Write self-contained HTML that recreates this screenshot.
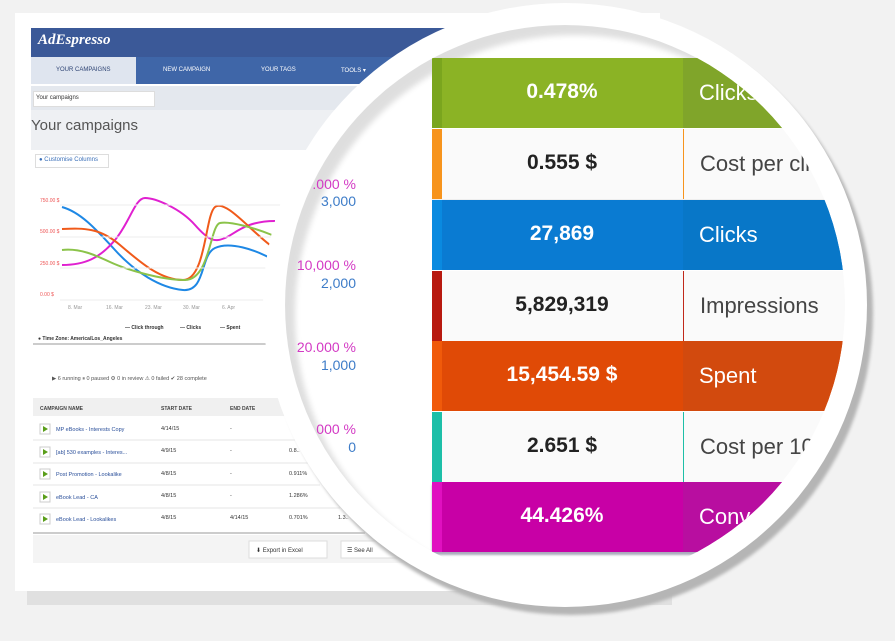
<!DOCTYPE html>
<html><head><meta charset="utf-8"><style>
body{margin:0;width:895px;height:641px;background:#f2f2f2;position:relative;overflow:hidden;font-family:"Liberation Sans",sans-serif}
.abs{position:absolute}
.card{left:15px;top:13px;width:645px;height:578px;background:#fff;box-shadow:12px 14px 0 #e0e0e0}
.t{font-size:6px;color:#333;position:absolute}
.lens{left:263px;top:3px;width:604px;height:604px;border-radius:50%;background:#fff;box-shadow:6px 8px 3px #b5b5b5}
.inner{left:285px;top:25px;width:560px;height:560px;border-radius:50%;overflow:hidden;background:#fff;box-shadow:inset 10px 10px 6px rgba(0,0,0,.13)}
.row{position:absolute;left:147px;width:420px;height:70px;font-weight:bold;font-size:21px}
.row .v{position:absolute;left:10px;width:240px;text-align:center;top:22px}
.row .l{position:absolute;left:251px;right:0;top:0;bottom:0;padding:22px 0 0 16px;font-weight:normal;font-size:22px}
.row .b{position:absolute;left:0;top:0;bottom:0;width:10px}
</style></head><body>
<div class="abs card"></div>
<div class="abs" style="left:31px;top:28px;width:420px;height:29px;background:#3b5998"></div>
<div class="abs" style="left:38px;top:32px;color:#fff;font:italic bold 15px 'Liberation Serif',serif">AdEspresso</div>
<div class="abs" style="left:31px;top:57px;width:420px;height:27px;background:#3f66a8"></div>
<div class="abs" style="left:31px;top:57px;width:105px;height:27px;background:#dfe5ef"></div>
<div class="t" style="left:56px;top:67px;color:#2d4373">YOUR CAMPAIGNS</div>
<div class="t" style="left:163px;top:67px;color:#fff">NEW CAMPAIGN</div>
<div class="t" style="left:261px;top:67px;color:#fff">YOUR TAGS</div>
<div class="t" style="left:341px;top:67px;color:#fff">TOOLS ▾</div>
<div class="abs" style="left:31px;top:86px;width:420px;height:24px;background:#e4e8ee"></div>
<div class="abs" style="left:33px;top:91px;width:120px;height:14px;background:#fff;border:1px solid #ddd"></div>
<div class="t" style="left:36px;top:95px">Your campaigns</div>
<div class="abs" style="left:31px;top:110px;width:420px;height:40px;background:#eef0f3"></div>
<div class="abs" style="left:31px;top:117px;font-size:15px;color:#555">Your campaigns</div>
<div class="abs" style="left:35px;top:154px;width:72px;height:12px;border:1px solid #ddd;background:#fff"></div>
<div class="t" style="left:39px;top:157px;color:#3a6fb8">● Customise Columns</div>
<svg class="abs" style="left:0;top:0" width="440" height="600">
<g stroke-width="2" fill="none">
<path d="M62,207 C80,212 95,228 115,250 S160,288 183,290 S200,255 215,248 S255,250 270,258" stroke="#1e88e5"/>
<path d="M62,265 C85,265 100,258 115,240 S135,198 145,198 S180,208 195,225 S215,242 225,238 S245,221 275,221" stroke="#e020d0"/>
<path d="M62,229 C85,228 100,228 120,245 S160,280 183,280 S205,215 215,207 S250,230 270,245" stroke="#f05a1a"/>
<path d="M62,250 C80,248 95,255 110,262 S160,280 185,280 S210,225 220,223 S255,228 272,235" stroke="#8bc34a"/>
</g>
<g stroke="#eee"><line x1="60" y1="205" x2="282" y2="205"/><line x1="60" y1="237" x2="282" y2="237"/><line x1="60" y1="268" x2="282" y2="268"/><line x1="60" y1="300" x2="265" y2="300"/></g>
<g font-size="5" fill="#999"><text x="68" y="309">8. Mar</text><text x="106" y="309">16. Mar</text><text x="145" y="309">23. Mar</text><text x="183" y="309">30. Mar</text><text x="222" y="309">6. Apr</text></g>
<g font-size="5" fill="#e55"><text x="40" y="202">750.00 $</text><text x="40" y="233">500.00 $</text><text x="40" y="265">250.00 $</text><text x="40" y="296">0.00 $</text></g>
<g font-size="5" font-weight="bold" fill="#333"><text x="125" y="329">— Click through</text><text x="180" y="329">— Clicks</text><text x="220" y="329">— Spent</text><text x="38" y="340">● Time Zone: America/Los_Angeles</text></g>
<line x1="33" y1="344" x2="267" y2="344" stroke="#ccc" stroke-width="2"/>
<text x="52" y="380" font-size="5.5" fill="#555">▶ 6 running  ⏸ 0 paused  ⚙ 0 in review  ⚠ 0 failed  ✔ 28 complete</text>
<rect x="33" y="398" width="255" height="18" fill="#f0f0f0"/>
<g font-size="5" font-weight="bold" fill="#444"><text x="40" y="410">CAMPAIGN NAME</text><text x="161" y="410">START DATE</text><text x="230" y="410">END DATE</text></g>
<g font-size="5.5" fill="#333">
<text x="56" y="431" fill="#2a4f9a">MP eBooks - Interests Copy</text><text x="161" y="430">4/14/15</text><text x="230" y="430">-</text>
<text x="56" y="454" fill="#2a4f9a">[ab] 530 examples - Interes...</text><text x="161" y="452">4/9/15</text><text x="230" y="452">-</text><text x="289" y="452">0.8..</text>
<text x="56" y="476" fill="#2a4f9a">Post Promotion - Lookalike</text><text x="161" y="475">4/8/15</text><text x="230" y="475">-</text><text x="289" y="475">0.911%</text>
<text x="56" y="499" fill="#2a4f9a">eBook Lead - CA</text><text x="161" y="497">4/8/15</text><text x="230" y="497">-</text><text x="289" y="497">1.286%</text>
<text x="56" y="521" fill="#2a4f9a">eBook Lead - Lookalikes</text><text x="161" y="519">4/8/15</text><text x="230" y="519">4/14/15</text><text x="289" y="519">0.701%</text><text x="338" y="519">1.3..</text>
</g>
<g stroke="#e6e6e6"><line x1="33" y1="440" x2="300" y2="440"/><line x1="33" y1="463" x2="310" y2="463"/><line x1="33" y1="485" x2="320" y2="485"/><line x1="33" y1="508" x2="340" y2="508"/><line x1="33" y1="533" x2="365" y2="533" stroke="#ccc" stroke-width="2"/></g>
<g fill="#fff" stroke="#ccc"><rect x="40" y="424" width="10" height="10"/><rect x="40" y="447" width="10" height="10"/><rect x="40" y="469" width="10" height="10"/><rect x="40" y="492" width="10" height="10"/><rect x="40" y="514" width="10" height="10"/></g>
<g fill="#5a9e1a"><path d="M43,426 l5,3 l-5,3z"/><path d="M43,449 l5,3 l-5,3z"/><path d="M43,471 l5,3 l-5,3z"/><path d="M43,494 l5,3 l-5,3z"/><path d="M43,516 l5,3 l-5,3z"/></g>
<rect x="33" y="535" width="370" height="28" fill="#f4f4f4"/>
<rect x="249" y="541" width="78" height="17" fill="#fff" stroke="#ddd"/><text x="256" y="552" font-size="6" fill="#333">⬇ Export in Excel</text>
<rect x="341" y="541" width="60" height="17" fill="#fff" stroke="#ddd"/><text x="347" y="552" font-size="6" fill="#333">☰ See All</text>
</svg>
<div class="abs lens"></div>
<div class="abs inner">
 <div style="position:absolute;left:11px;top:0;font-size:14px;line-height:18px">
  <div style="position:absolute;left:0;top:150px;width:60px;text-align:right;color:#d33ac4">.000 %</div>
  <div style="position:absolute;left:0;top:167px;width:60px;text-align:right;color:#3d7cc8">3,000</div>
  <div style="position:absolute;left:0;top:231px;width:60px;text-align:right;color:#d33ac4">10,000 %</div>
  <div style="position:absolute;left:0;top:249px;width:60px;text-align:right;color:#3d7cc8">2,000</div>
  <div style="position:absolute;left:0;top:313px;width:60px;text-align:right;color:#d33ac4">20.000 %</div>
  <div style="position:absolute;left:0;top:331px;width:60px;text-align:right;color:#3d7cc8">1,000</div>
  <div style="position:absolute;left:0;top:395px;width:60px;text-align:right;color:#d33ac4">000 %</div>
  <div style="position:absolute;left:0;top:413px;width:60px;text-align:right;color:#3d7cc8">0</div>
 </div>
 <div class="row" style="top:33px;background:#8bb325;color:#fff"><div class="b" style="background:#7aa51e"></div><div class="v">0.478%</div><div class="l" style="background:#80a52a">Clicks through</div></div>
 <div class="row" style="top:104px;background:#fafafa;color:#222;border-bottom:1px solid #eee"><div class="b" style="background:#f7941d"></div><div class="v">0.555 $</div><div class="l" style="border-left:1px solid #f7941d;color:#444">Cost per click</div></div>
 <div class="row" style="top:175px;background:#0a7bd2;color:#fff"><div class="b" style="background:#0a8ae0"></div><div class="v">27,869</div><div class="l" style="background:#0877c8">Clicks</div></div>
 <div class="row" style="top:246px;background:#fafafa;color:#222"><div class="b" style="background:#b8190f"></div><div class="v">5,829,319</div><div class="l" style="border-left:1px solid #c0281a;color:#444">Impressions</div></div>
 <div class="row" style="top:316px;background:#e04a06;color:#fff"><div class="b" style="background:#f05a0a"></div><div class="v">15,454.59 $</div><div class="l" style="background:#d24a0e">Spent</div></div>
 <div class="row" style="top:387px;background:#fafafa;color:#222"><div class="b" style="background:#1dbfa8"></div><div class="v">2.651 $</div><div class="l" style="border-left:1px solid #1dbfa8;color:#444">Cost per 1000</div></div>
 <div class="row" style="top:457px;background:#c800a6;color:#fff;box-shadow:0 3px 2px #aab"><div class="b" style="background:#e010c0"></div><div class="v">44.426%</div><div class="l" style="background:#b80ea0">Conversions</div></div>
</div>
</body></html>
